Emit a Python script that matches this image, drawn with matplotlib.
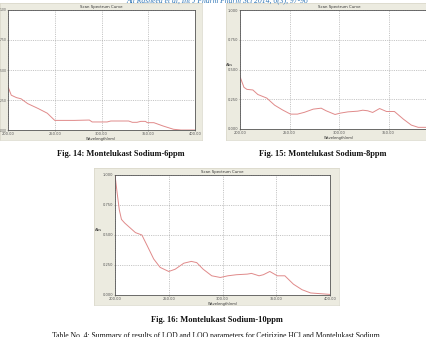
import matplotlib
matplotlib.use("Agg")
import matplotlib.pyplot as plt

W, H = 426, 337

# ---- data (wavelength nm, absorbance) ----
wl_6ppm = [200, 203.5, 209, 214, 221, 232, 242, 250, 271, 287, 290, 306, 310, 329, 333, 338, 342, 347, 349, 356, 366, 377, 385, 400]
abs_6ppm = [0.36, 0.29, 0.27, 0.26, 0.22, 0.18, 0.14, 0.08, 0.08, 0.083, 0.067, 0.067, 0.075, 0.075, 0.064, 0.064, 0.072, 0.072, 0.061, 0.061, 0.033, 0.006, 0.0, 0.0]

wl_8ppm = [200, 204, 207, 213, 218, 227, 235, 243, 251, 258, 265, 274, 282, 287, 296, 301, 309, 319, 324, 329, 334, 341, 348, 356, 365, 373, 380, 387, 400]
abs_8ppm = [0.44, 0.35, 0.333, 0.328, 0.29, 0.26, 0.2, 0.16, 0.125, 0.125, 0.14, 0.167, 0.175, 0.153, 0.122, 0.133, 0.144, 0.15, 0.158, 0.153, 0.139, 0.172, 0.147, 0.147, 0.083, 0.033, 0.014, 0.014, 0.012]

wl_10ppm = [200, 202, 204, 206, 209, 214, 219, 225, 230, 236, 242, 250, 256, 264, 271, 276, 282, 290, 298, 305, 313, 323, 327, 334, 338, 344, 351, 358, 366, 374, 382, 391, 400]
abs_10ppm = [1.0, 0.85, 0.71, 0.63, 0.60, 0.56, 0.52, 0.50, 0.41, 0.30, 0.23, 0.196, 0.215, 0.265, 0.28, 0.27, 0.215, 0.16, 0.146, 0.16, 0.169, 0.174, 0.18, 0.16, 0.169, 0.196, 0.16, 0.16, 0.09, 0.044, 0.017, 0.011, 0.005]

x_ticks = [200, 250, 300, 350, 400]
x_ticklabels = ["200.00", "250.00", "300.00", "350.00", "400.00"]
y_ticks = [0.0, 0.25, 0.5, 0.75, 1.0]
y_labels_short = [".000", ".250", ".500", ".750", "1.00"]
y_labels_long = ["0.000", "0.250", "0.500", "0.750", "1.000"]

captions = ["Fig. 14: Montelukast Sodium-6ppm",
            "Fig. 15: Montelukast Sodium-8ppm",
            "Fig. 16: Montelukast Sodium-10ppm"]
header_text = "Ali Rasheed et al, Int J Pharm Pharm Sci 2014, 6(3), 97-98"
table_text = "Table No. 4: Summary of results of LOD and LOQ parameters for Cetirizine HCl and Montelukast Sodium"

fig = plt.figure(figsize=(W / 100, H / 100), dpi=100)
fig.patch.set_facecolor("white")

def frac_rect(l, t, r, b):
    return [l / W, 1 - b / H, (r - l) / W, (b - t) / H]

FRAME = "#ECEBE0"
LINE = "#E08A8A"

def panel(frame, plot, wl, ab, ylabels, show_abs, abs_x, yfs=2.6):
    l, t, r, b = frame
    bg = fig.add_axes(frac_rect(l, t, r, b))
    bg.set_facecolor(FRAME)
    bg.set_xticks([])
    bg.set_yticks([])
    for s in bg.spines.values():
        s.set_color("#D8D6C8")
        s.set_linewidth(0.5)
    bg.set_zorder(0)
    ax = fig.add_axes(frac_rect(*plot))
    ax.set_zorder(1)
    ax.set_facecolor("white")
    ax.plot(wl, ab, color=LINE, linewidth=0.7)
    ax.set_xlim(200, 400)
    ax.set_ylim(0, 1.0)
    ax.set_xticks(x_ticks)
    ax.set_xticklabels(x_ticklabels, fontsize=2.6, color="#444444")
    ax.set_yticks(y_ticks)
    ax.set_yticklabels(ylabels, fontsize=yfs, color="#444444")
    ax.tick_params(length=1.0, width=0.4, pad=0.6, colors="#555555")
    ax.tick_params(axis="y", length=0.6, pad=0.4)
    ax.grid(True, linestyle=(0, (2, 2)), color="#9A9A9A", linewidth=0.4)
    for s in ax.spines.values():
        s.set_color("#555555")
        s.set_linewidth(0.6)
    ax.set_title("Scan Spectrum Curve", fontsize=2.8, pad=1.5, color="#333333")
    ax.set_xlabel("Wavelength(nm)", fontsize=2.6, labelpad=0.3, color="#333333")
    if show_abs:
        ax.set_ylabel("Abs", fontsize=2.8, rotation=0, color="#333333", va="center", ha="center")
        ax.yaxis.set_label_coords(abs_x, 0.54)
    return ax

panel((0, 3, 202, 140), (8, 10, 195, 130), wl_6ppm, abs_6ppm, y_labels_short, False, 0, yfs=2.2)
panel((226, 3, 440, 140), (240, 10, 438, 129), wl_8ppm, abs_8ppm, y_labels_long, True, -0.055)
panel((94, 168, 339, 305), (115, 175, 330, 295), wl_10ppm, abs_10ppm, y_labels_long, True, -0.075)

cap_kw = dict(fontsize=6, fontweight="bold", family="Liberation Serif", ha="center", va="center", color="#111111")
fig.text(121 / W, 1 - 154 / H, captions[0], **cap_kw)
fig.text(323 / W, 1 - 154 / H, captions[1], **cap_kw)
fig.text(217 / W, 1 - 320 / H, captions[2], **cap_kw)

fig.text(217 / W, 1 - 0.5 / H, header_text, fontsize=5.5, family="Liberation Serif",
         ha="center", va="center", color="#2E75B6", style="italic")
fig.text(216 / W, 1 - 336.5 / H, table_text, fontsize=5.5, family="Liberation Serif",
         ha="center", va="center", color="#111111")

fig.savefig("out.png", dpi=100, facecolor="white")
